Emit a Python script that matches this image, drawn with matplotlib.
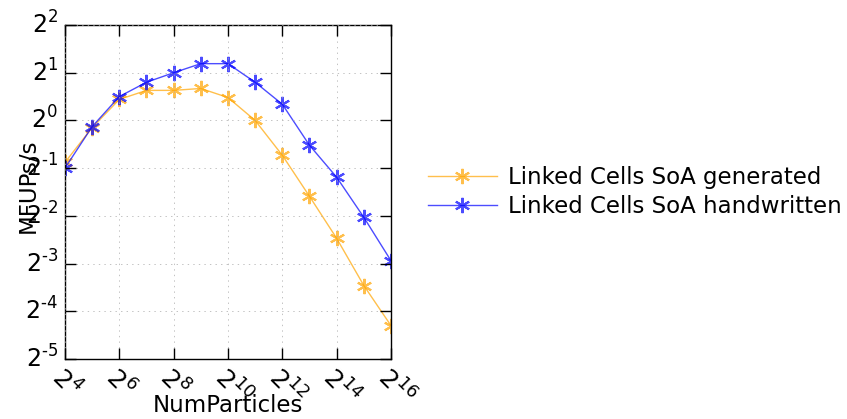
import numpy as np
import matplotlib
matplotlib.use("Agg")
import matplotlib.pyplot as plt

# === DATA ===
exponents = [4, 5, 6, 7, 8, 9, 10, 11, 12, 13, 14, 15, 16]
num_particles = [2 ** e for e in exponents]

# log2 of MFUPs/s
log_generated = [-0.88, -0.15, 0.44, 0.63, 0.63, 0.67, 0.48, 0.0, -0.73, -1.59, -2.47, -3.46, -4.30]
log_handwritten = [-1.0, -0.13, 0.50, 0.80, 1.0, 1.19, 1.19, 0.80, 0.34, -0.52, -1.19, -2.03, -2.94]

gen = [2 ** v for v in log_generated]
hand = [2 ** v for v in log_handwritten]

xtick_exp = list(range(4, 17, 2))
ytick_exp = list(range(-5, 3))

# === PLOT ===
plt.style.use("classic")
plt.rcParams["font.family"] = "DejaVu Sans"
plt.rcParams["mathtext.fontset"] = "dejavusans"

fig = plt.figure(figsize=(8.47, 4.19), dpi=100, facecolor="white")
ax = fig.add_axes([0.0767, 0.1432, 0.3849, 0.7971])

ax.plot(num_particles, gen, color="orange", marker=(6, 2, 0), markersize=11,
        markeredgecolor="orange", markeredgewidth=1.5, alpha=0.7,
        label="Linked Cells SoA generated")
ax.plot(num_particles, hand, color="blue", marker=(6, 2, 0), markersize=11,
        markeredgecolor="blue", markeredgewidth=1.5, alpha=0.7,
        label="Linked Cells SoA handwritten")

ax.set_xscale("log", base=2)
ax.set_yscale("log", base=2)
ax.set_xlim(2 ** 4, 2 ** 16)
ax.set_ylim(2 ** -5, 2 ** 2)
ax.set_xticks([2 ** e for e in xtick_exp])
ax.set_yticks([2 ** e for e in ytick_exp])
ax.set_xticklabels(["$2^{%d}$" % e for e in xtick_exp], rotation=-45,
                   ha="left", va="top", rotation_mode="anchor", fontsize=18)
ax.set_yticklabels(["$2^{\\text{-}%d}$" % -e if e < 0 else "$2^{%d}$" % e
                    for e in ytick_exp], fontsize=17)
ax.minorticks_off()
ax.tick_params(direction="in", length=8, width=1, top=True, right=True, pad=5)
ax.tick_params(axis="x", pad=3)
ax.grid(True, linestyle=":", color="#aaaaaa")

ax.set_xlabel("NumParticles", fontsize=16.5)
ax.xaxis.set_label_coords(0.5, -0.105)
ax.set_ylabel("MFUPs/s", fontsize=16.5)
ax.yaxis.set_label_coords(-0.077, 0.52)

ax.legend(loc="center left", bbox_to_anchor=(1.05, 0.5), frameon=False,
          fontsize=16.5, numpoints=1, handlelength=3, handletextpad=0.5,
          labelspacing=0.25)

fig.savefig("out.png", dpi=100, facecolor="white")
